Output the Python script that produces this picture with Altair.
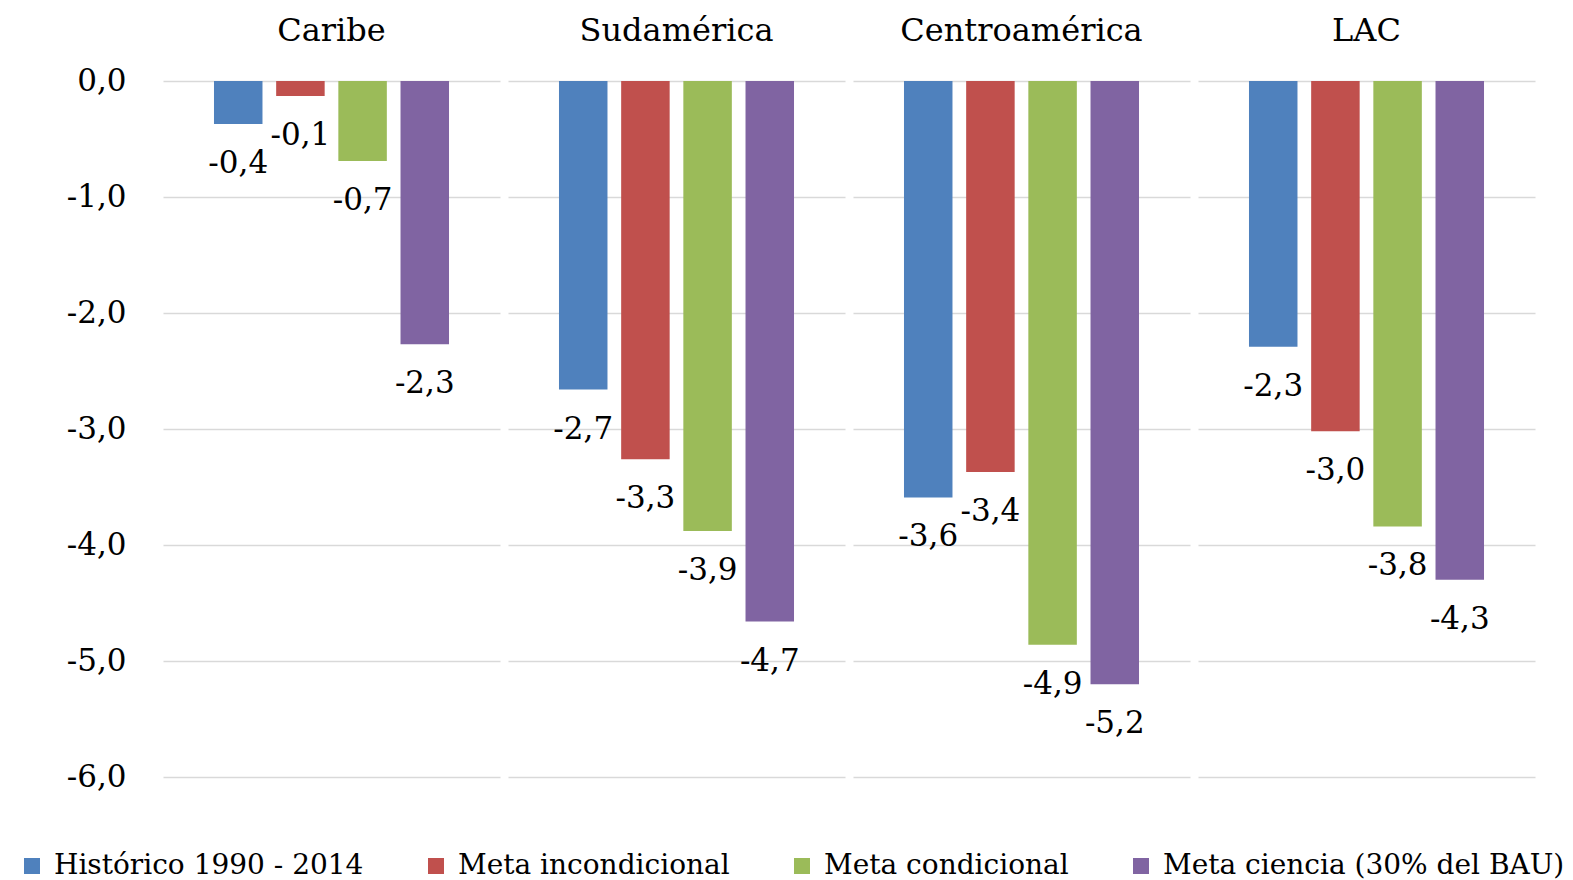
import altair as alt
import pandas as pd

# Regions (facet columns) and emission-reduction series
regions = ["Caribe", "Sudamérica", "Centroamérica", "LAC"]
series = [
    "Histórico 1990 - 2014",
    "Meta incondicional",
    "Meta condicional",
    "Meta ciencia (30% del BAU)",
]
colors = ["#4F81BD", "#C0504D", "#9BBB59", "#8064A2"]

# Annual change (%) per region, one list per series, in region order
historico = [-0.37, -2.66, -3.59, -2.29]
incondicional = [-0.13, -3.26, -3.37, -3.02]
condicional = [-0.69, -3.88, -4.86, -3.84]
ciencia = [-2.27, -4.66, -5.20, -4.30]

y_ticks = [0, -1, -2, -3, -4, -5, -6]

rows = []
for s, vals in zip(series, [historico, incondicional, condicional, ciencia]):
    for r, v in zip(regions, vals):
        rows.append({"region": r, "serie": s, "valor": v})
df = pd.DataFrame(rows)

FONT = "DejaVu Serif"
comma_fmt = "replace(replace(format({v}, '.1f'), '−', '-'), '.', ',')"

x_enc = alt.X(
    "serie:N",
    sort=series,
    axis=None,
    scale=alt.Scale(paddingInner=0.22, paddingOuter=0.82),
)
y_enc = alt.Y(
    "valor:Q",
    scale=alt.Scale(domain=[-6, 0], nice=False, zero=False),
    axis=alt.Axis(
        title=None,
        values=y_ticks,
        labelExpr=comma_fmt.format(v="datum.value"),
        domain=False,
        ticks=False,
        grid=True,
        gridColor="#d9d9d9",
        gridWidth=1.5,
        labelFont=FONT,
        labelFontSize=31,
        labelColor="#000000",
        labelPadding=37,
    ),
)

bars = alt.Chart(df).mark_bar().encode(
    x=x_enc,
    y=y_enc,
    color=alt.Color(
        "serie:N",
        sort=series,
        scale=alt.Scale(domain=series, range=colors),
        legend=alt.Legend(
            title=None,
            orient="none",
            direction="horizontal",
            legendX=-145,
            legendY=771,
            padding=0,
            symbolType="square",
            symbolSize=256,
            symbolStrokeWidth=0,
            labelFont=FONT,
            labelFontSize=28,
            labelColor="#000000",
            labelOffset=8,
            columnPadding=58,
            labelLimit=600,
        ),
    ),
)

labels = (
    alt.Chart(df)
    .transform_calculate(etiqueta=comma_fmt.format(v="datum.valor"))
    .mark_text(baseline="top", align="center", dy=25, font=FONT, fontSize=31, color="#000000")
    .encode(x=x_enc, y=alt.Y("valor:Q"), text="etiqueta:N")
)

chart = (
    alt.layer(bars, labels, data=df)
    .properties(width=337, height=696)
    .facet(
        column=alt.Column(
            "region:N",
            sort=regions,
            title=None,
            header=alt.Header(
                labelFont=FONT,
                labelFontSize=32,
                labelColor="#000000",
                labelBaseline="bottom",
                labelPadding=1,
            ),
        ),
        spacing=8,
    )
    .configure_view(stroke=None)
    .properties(padding={"left": 18, "top": 15, "right": 5, "bottom": 0}, background="#ffffff")
)

chart.save("out.html", embed_options={"renderer": "svg", "actions": False})
